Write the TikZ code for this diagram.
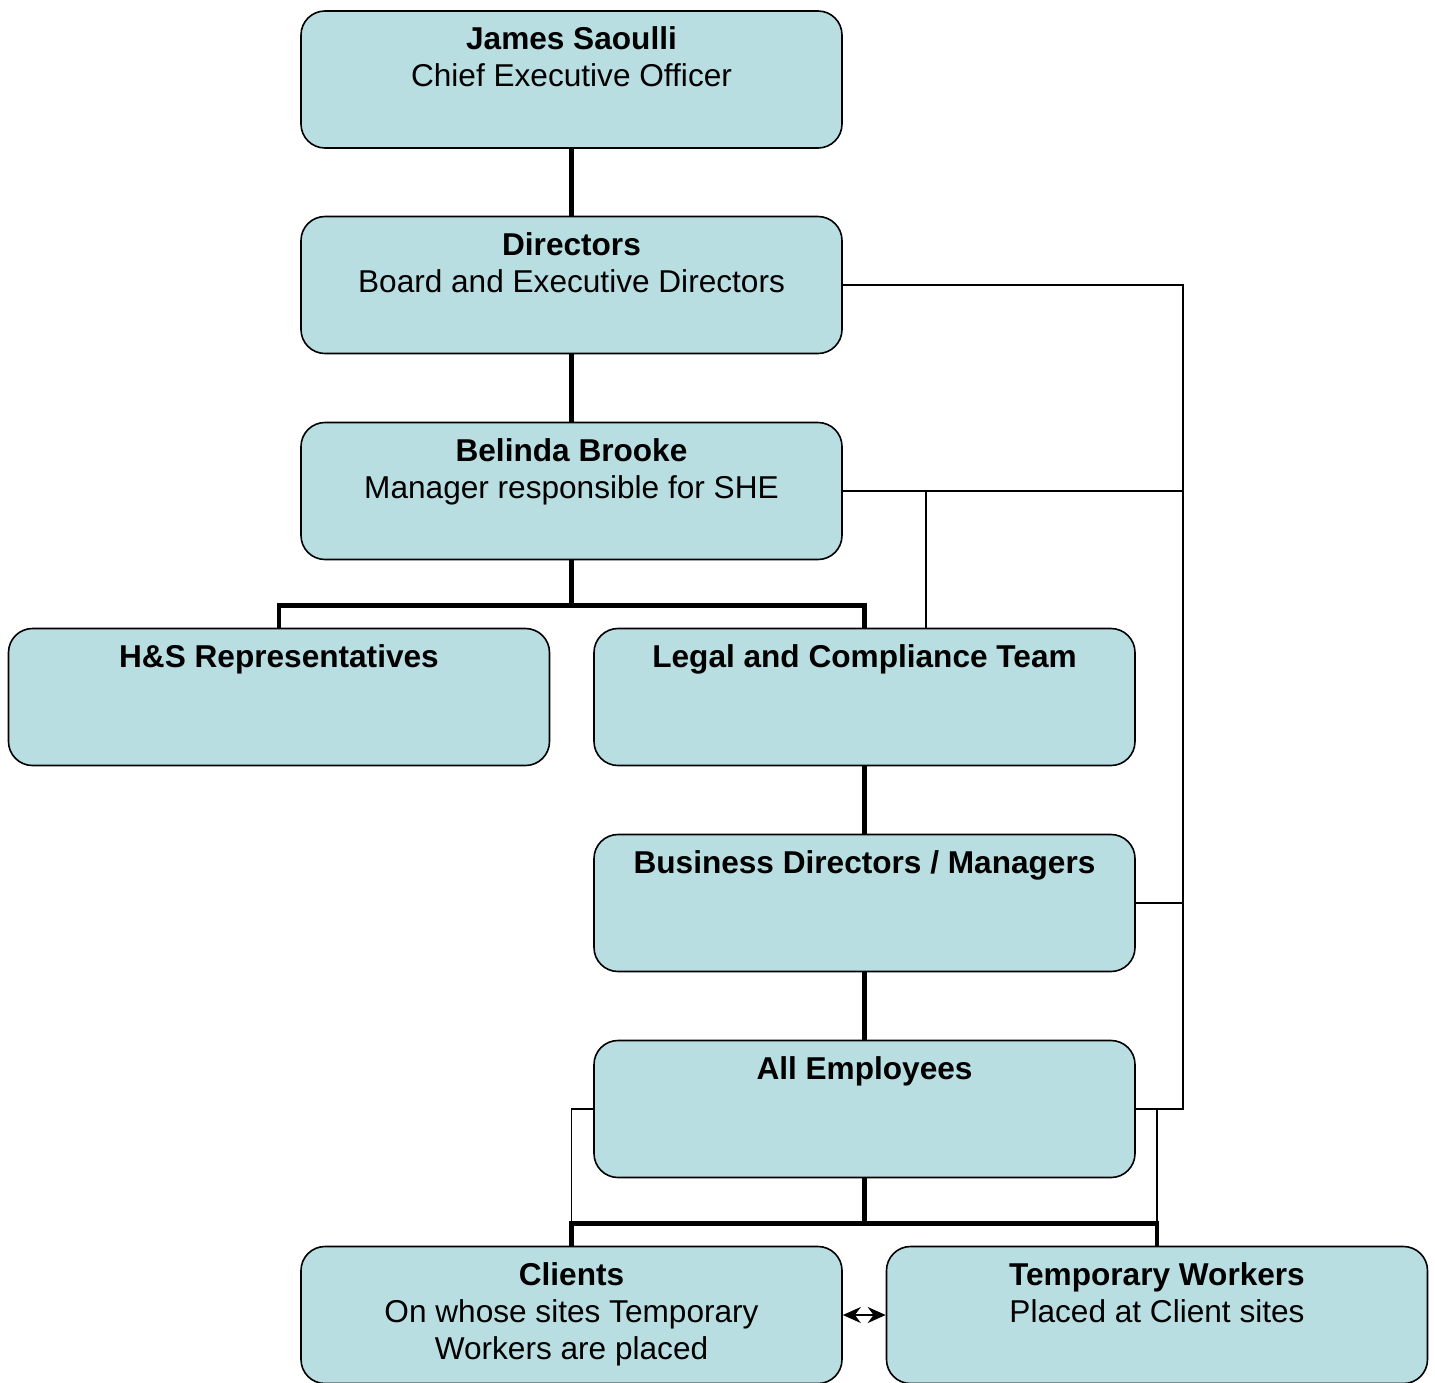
\documentclass[tikz,border=0pt]{standalone}
\usepackage{fontspec}
\setmainfont{Liberation Sans}
\usetikzlibrary{calc, positioning, arrows.meta}
\definecolor{boxblue}{RGB}{184,222,225}
\newcommand\orgbox[4]{\node[orgbox] (#1) at (#2,#3) {};\node[orgtext] (#1-t) at ([yshift=-16.5pt]#1.north) {#4};}

\begin{document}
\begin{tikzpicture}[x=1pt, y=-1pt,
  orgbox/.style={draw, line width=1.6pt, fill=boxblue, rounded corners=24pt, minimum width=541pt, minimum height=137pt, inner sep=0pt},
  orgtext/.style={anchor=north, align=center, inner sep=0pt, font=\fontsize{31.6}{37}\selectfont},
  trunk/.style={line width=4.5pt},
  link/.style={line width=1.8pt}]
\useasboundingbox (0,0) rectangle (1435,1382);

\orgbox{ceo}{571.5}{79.5}{\textbf{James Saoulli}\\Chief Executive Officer}
\orgbox{dir}{571.5}{285}{\textbf{Directors}\\Board and Executive Directors}
\orgbox{she}{571.5}{491}{\textbf{Belinda Brooke}\\Manager responsible for SHE}
\orgbox{hsr}{279}{697}{\textbf{H\&S Representatives}}
\orgbox{legal}{864.5}{697}{\textbf{Legal and Compliance Team}}
\orgbox{bus}{864.5}{903}{\textbf{Business Directors / Managers}}
\orgbox{emp}{864.5}{1109}{\textbf{All Employees}}
\orgbox{cli}{571.5}{1315}{\textbf{Clients}\\On whose sites Temporary\\Workers are placed}
\orgbox{tmp}{1157}{1315}{\textbf{Temporary Workers}\\Placed at Client sites}

\coordinate (rail) at (1183,0);
\coordinate (tap) at (926,0);

% reporting line
\draw[trunk] (ceo) -- (dir);
\draw[trunk] (dir) -- (she);
\draw[trunk] (she.south) -- ++(0,45) coordinate (shej);
\draw[trunk] (hsr.north) |- (shej) -| (legal.north);
\draw[trunk] (legal) -- (bus);
\draw[trunk] (bus) -- (emp);
\draw[trunk] (emp.south) -- ++(0,45) coordinate (empj);
\draw[trunk] (cli.north) |- (empj) -| (tmp.north);

% side links
\draw[link] (dir.east) -| (emp.east -| rail) -- (emp.east);
\draw[link] (she.east) -- (she.east -| rail);
\draw[link] (she.east -| tap) -- (legal.north -| tap);
\draw[link] (bus.east) -- (bus.east -| rail);
\draw[link] (emp.west) -| (cli.north);
\draw[link] (emp.east -| tmp.north) -- (tmp.north);
\draw[link, {Stealth[length=18pt,width=16pt]}-{Stealth[length=18pt,width=16pt]}] (cli.east) -- (tmp.west);

\end{tikzpicture}
\end{document}
